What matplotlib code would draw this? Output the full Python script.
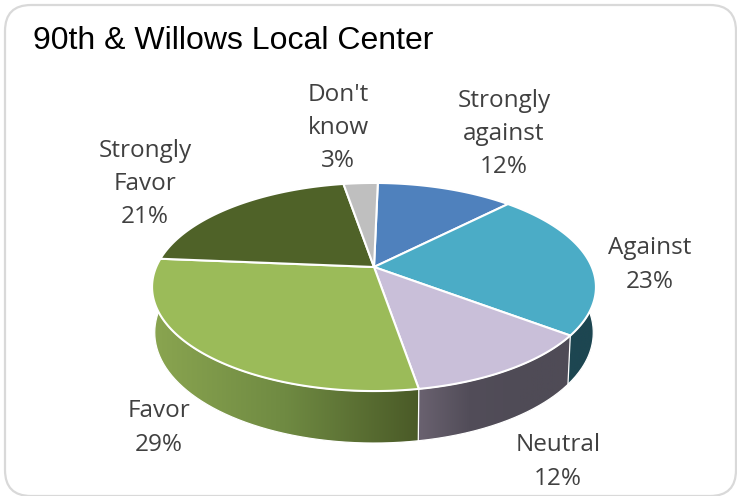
import numpy as np
import matplotlib
matplotlib.use("Agg")
import matplotlib.pyplot as plt
from matplotlib.colors import LinearSegmentedColormap
from matplotlib.patches import FancyBboxPatch, Polygon

# Survey responses, clockwise from the first-slice angle
categories = ["Strongly\nagainst", "Against", "Neutral", "Favor", "Strongly\nFavor", "Don't\nknow"]
shares = [12, 23, 12, 29, 21, 3]
top_colors = ["#4F81BD", "#4BACC6", "#C9BFD9", "#9BBB59", "#4F6228", "#BFBFBF"]
side_ramps = [
    ["#2A4A6E", "#2A4A6E"],
    ["#1D4651", "#1D4651"],
    ["#6A6270", "#524D59", "#4F4B56", "#4F4B56"],
    ["#8AA550", "#6F8A42", "#4A5A27"],
    ["#2F3B18", "#2F3B18"],
    ["#777777", "#777777"],
]
label_centers = [(504, 134), (650, 265), (558, 462), (159, 428), (145, 184), (338, 128)]
title = "90th & Willows Local Center"

WIDTH, HEIGHT = 737, 496
APEX = (374.0, 267.0)
SCALE_X, SCALE_Y, TILT = 217.8, 100.2, 0.1923
FIRST_SLICE_DEG = 1.2

plt.rcParams["font.family"] = ["Open Sans", "DejaVu Sans"]
fig = plt.figure(figsize=(WIDTH / 100, HEIGHT / 100), dpi=100, facecolor="white")
ax = fig.add_axes([0, 0, 1, 1])
ax.set_xlim(0, WIDTH)
ax.set_ylim(HEIGHT, 0)
ax.axis("off")


def rim(theta, lowered=False):
    """Project a clockwise angle on the unit disc onto the tilted pie plane."""
    u, v = np.sin(theta), np.cos(theta)
    w = 1 + TILT * v
    x = APEX[0] + SCALE_X * u / w
    y = APEX[1] - SCALE_Y * v / w
    if lowered:
        x = APEX[0] + (x - APEX[0]) * 0.988
        y = y + 44 - 8 * v
    return x, y


frame = FancyBboxPatch((5, 5), 731, 491, boxstyle="round,pad=0,rounding_size=26",
                       facecolor="white", edgecolor="#D9D9D9", linewidth=1.6, zorder=0)
ax.add_patch(frame)

edges = np.radians(np.concatenate([[0], np.cumsum(shares)]) * 3.6 + FIRST_SLICE_DEG)
spans = list(zip(edges[:-1], edges[1:]))

# Outer wall of the pie, drawn first so the top surface covers its hidden part
for (start, end), ramp in zip(spans, side_ramps):
    t = np.linspace(start, end, 160)
    tx, ty = rim(t)
    bx, by = rim(t, lowered=True)
    outline = np.column_stack([np.r_[tx, bx[::-1]], np.r_[ty, by[::-1]]])
    wall = Polygon(outline, closed=True, facecolor="none", edgecolor="none", zorder=2)
    ax.add_patch(wall)
    shade = LinearSegmentedColormap.from_list("wall", ramp)
    img = ax.imshow(np.linspace(0, 1, 256).reshape(1, -1), cmap=shade, aspect="auto",
                    extent=[outline[:, 0].min(), outline[:, 0].max(),
                            outline[:, 1].max(), outline[:, 1].min()], zorder=2)
    img.set_clip_path(wall)
    ax.plot(outline[:, 0], outline[:, 1], color="white", lw=0.9, zorder=3)

ax.set_xlim(0, WIDTH)
ax.set_ylim(HEIGHT, 0)

# Top surface slices
for (start, end), color in zip(spans, top_colors):
    t = np.linspace(start, end, 160)
    x, y = rim(t)
    pts = np.column_stack([np.r_[APEX[0], x], np.r_[APEX[1], y]])
    ax.add_patch(Polygon(pts, closed=True, facecolor=color, edgecolor="white",
                         linewidth=1.5, joinstyle="round", zorder=4))

for name, value, (cx, cy) in zip(categories, shares, label_centers):
    ax.text(cx, cy, f"{name}\n{value}%", ha="center", va="center", multialignment="center",
            fontsize=17.5, color="#404040", linespacing=1.51, zorder=5)

ax.text(33, 41, title, ha="left", va="center", fontsize=23, color="black",
        family=["Liberation Sans"], zorder=5)

fig.savefig("out.png", dpi=100, facecolor="white")
